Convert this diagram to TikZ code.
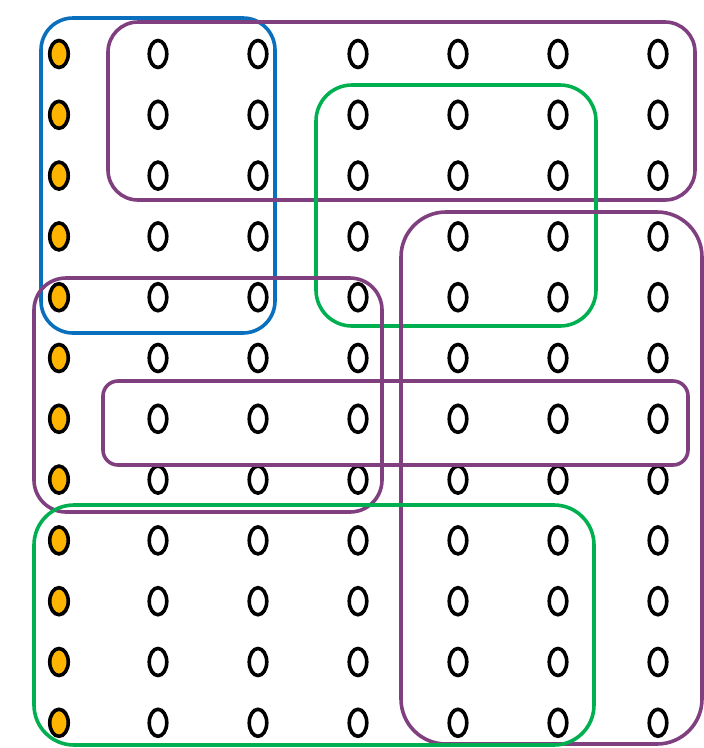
\documentclass[tikz,border=0pt]{standalone}
\usetikzlibrary{shapes.geometric}
\definecolor{cblue}{HTML}{0A70BE}
\definecolor{cpurple}{HTML}{80407F}
\definecolor{cgreen}{HTML}{00B050}
\definecolor{corange}{HTML}{FFB400}
\begin{document}
\begin{tikzpicture}[x=1pt,y=-1pt,
  dot/.style={ellipse,draw=black,line width=3.6pt,inner sep=0pt,minimum width=17.5pt,minimum height=27pt},
  fdot/.style={dot,fill=corange,minimum width=18.5pt},
  grp/.style={line width=3.6pt}]
\useasboundingbox (0,0) rectangle (704,748);
\foreach \r in {0,...,11}{
  \pgfmathsetmacro{\yy}{54+60.8*\r}
  \node[fdot] (n\r-0) at (59,\yy) {};
  \foreach \c/\xx in {1/158,2/258,3/358,4/458,5/558,6/658}{
    \node[dot] (n\r-\c) at (\xx,\yy) {};
  }
}
\draw[grp,cblue,rounded corners=32pt] (41,18) rectangle (275,333);
\draw[grp,cpurple,rounded corners=30pt] (108,22) rectangle (695,200);
\draw[grp,cgreen,rounded corners=36pt] (316,85) rectangle (596,326);
\draw[grp,cpurple,rounded corners=45pt] (401,212) rectangle (702,744);
\draw[grp,cpurple,rounded corners=32pt] (34,278) rectangle (382,512);
\draw[grp,cpurple,rounded corners=15pt] (103,381) rectangle (688,465);
\draw[grp,cgreen,rounded corners=40pt] (34,505) rectangle (594,745);
\end{tikzpicture}
\end{document}
